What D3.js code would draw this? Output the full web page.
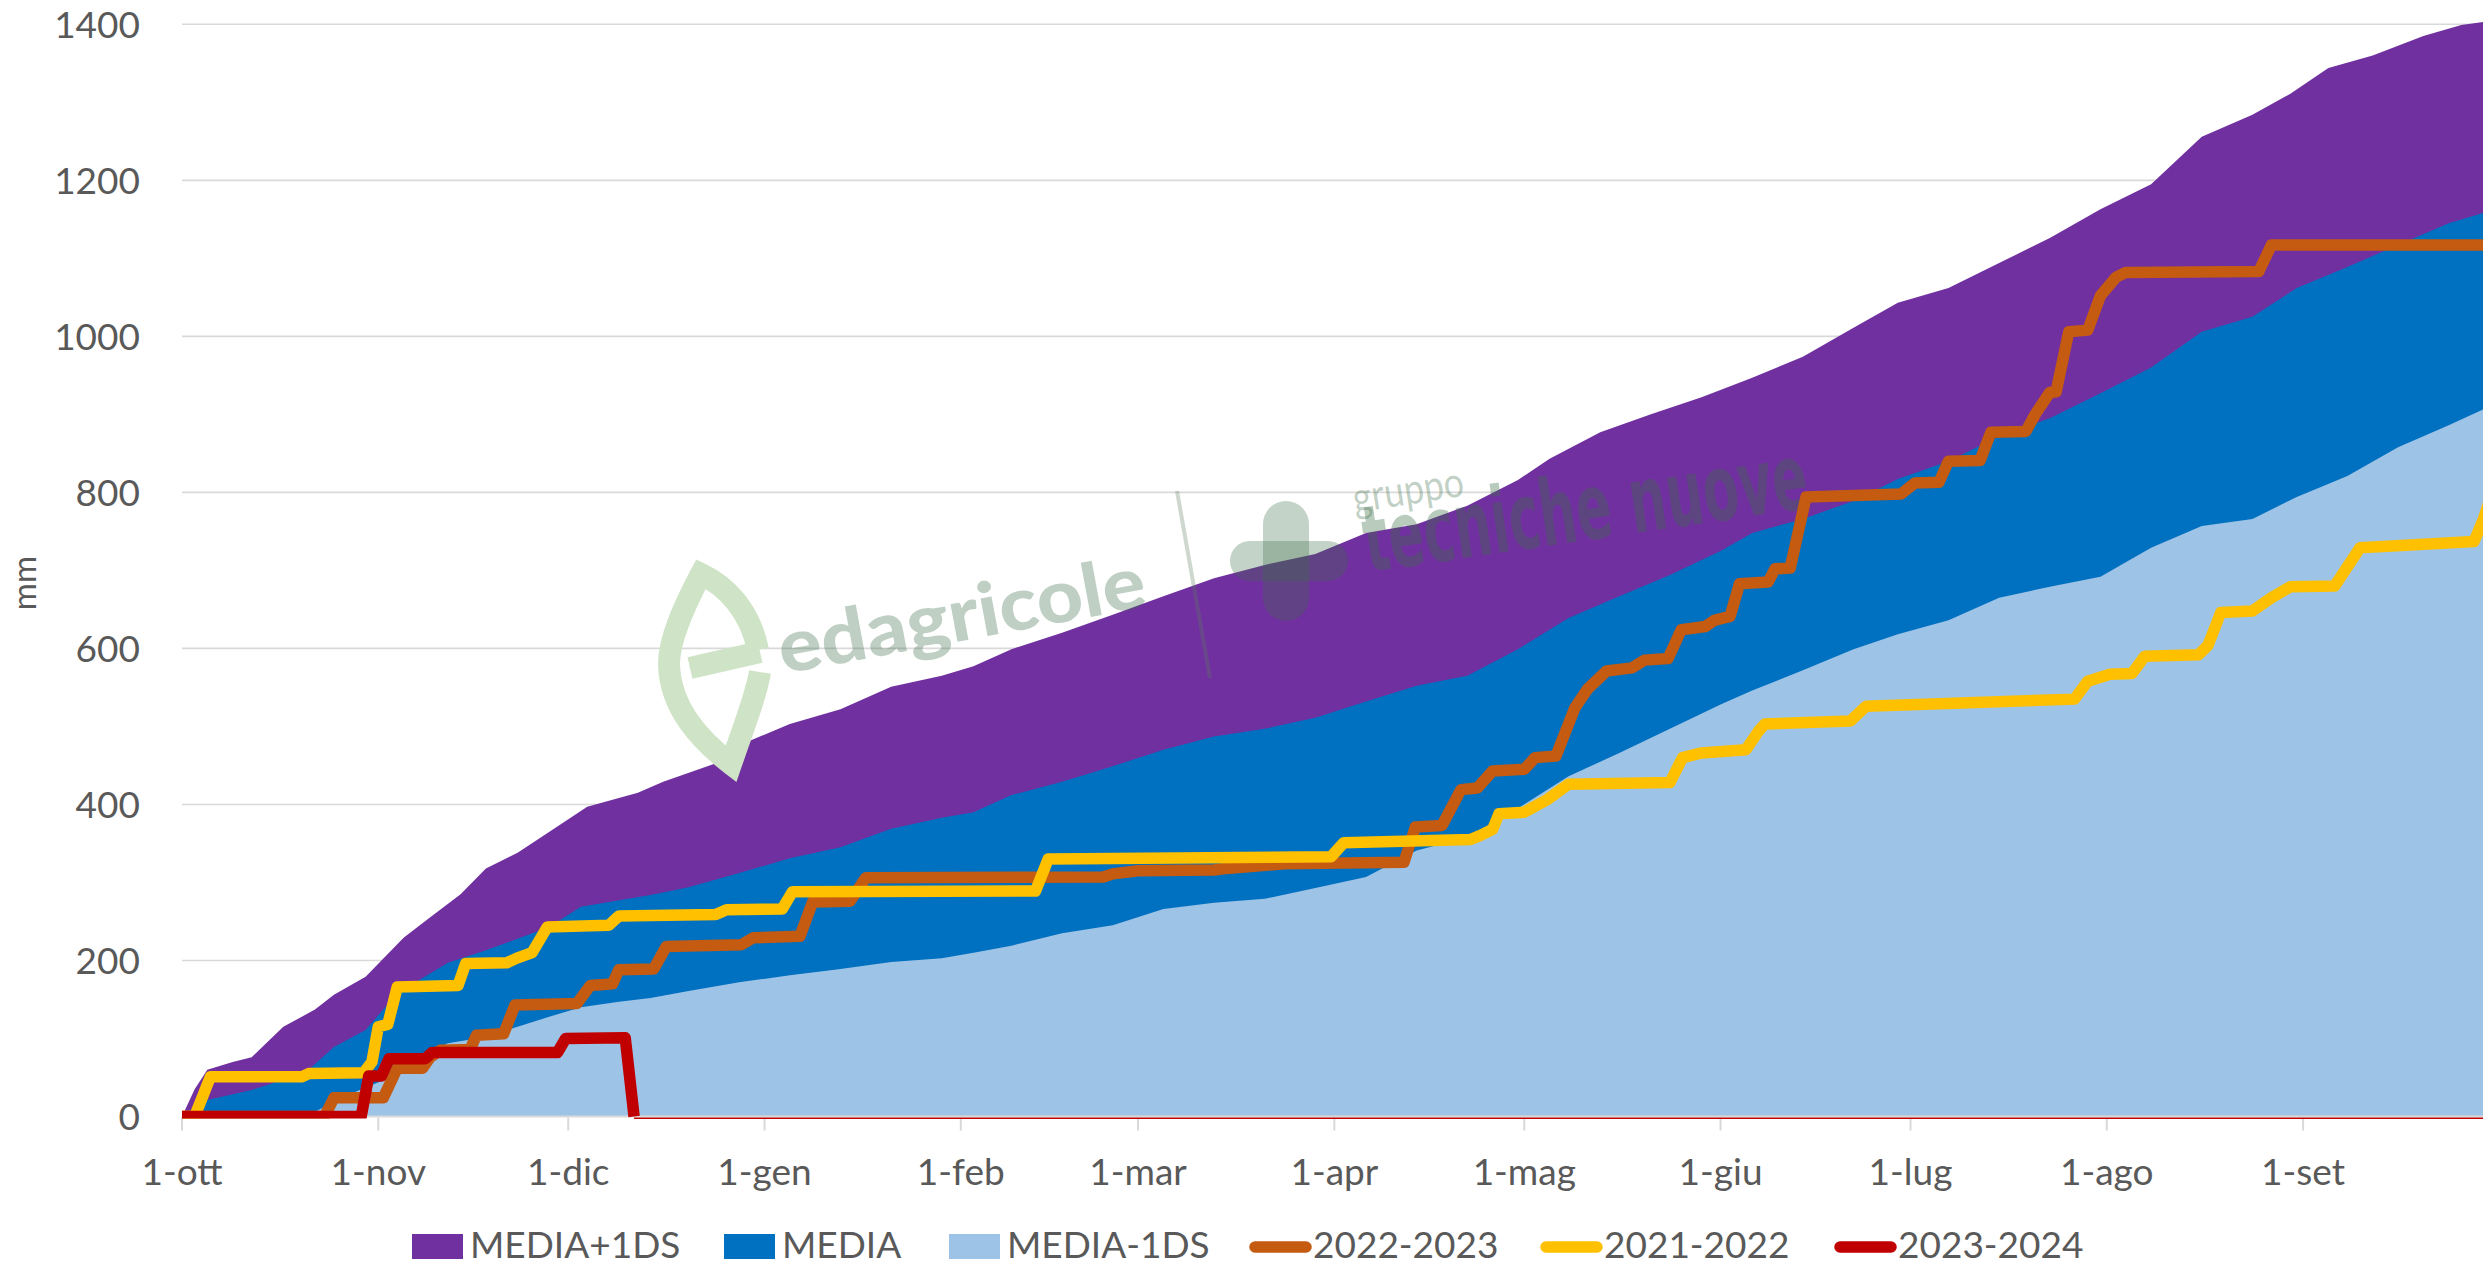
<!DOCTYPE html>
<html><head><meta charset="utf-8">
<script src="https://cdn.jsdelivr.net/npm/d3@7/dist/d3.min.js"></script>
<style>
html,body{margin:0;padding:0;background:#fff;}
svg{display:block;}
text{font-family:Lato,"Open Sans",sans-serif;fill:#595959;}
</style></head><body>
<svg id="chart" width="2483" height="1275"></svg>
<script>
// ---- tick labels / categories ----
const monthLabels = ["1-ott","1-nov","1-dic","1-gen","1-feb","1-mar","1-apr","1-mag","1-giu","1-lug","1-ago","1-set"];
const monthDays   = [0,31,61,92,123,151,182,212,243,273,304,335];
const yTicks      = [0,200,400,600,800,1000,1200,1400];
const seriesNames = ["MEDIA+1DS","MEDIA","MEDIA-1DS","2022-2023","2021-2022","2023-2024"];

// ---- series values: [day since 1-ott, cumulative mm] ----
const mediaPiu1DS = [[0,0],[2,35],[4,60],[8,70],[11,76],[16,115],[21,137],[24,156],[29,179],[32,204],[35,229],[39,254],[44,285],[48,318],[53,338],[56,354],[64,397],[72,415],[76,429],[84,452],[88,476],[96,503],[104,522],[112,551],[120,565],[125,577],[131,599],[139,620],[147,643],[155,667],[163,690],[171,707],[179,721],[187,748],[195,759],[203,783],[211,816],[216,843],[224,877],[232,900],[240,922],[248,947],[256,974],[264,1011],[271,1043],[279,1062],[287,1094],[295,1126],[303,1163],[311,1195],[319,1256],[327,1284],[333,1311],[339,1344],[346,1360],[354,1385],[360,1399],[365,1405]];
const media = [[0,0],[4,21],[11,34],[16,47],[20,60],[24,89],[29,111],[34,158],[42,197],[48,213],[58,243],[63,269],[74,284],[80,294],[88,312],[96,331],[104,345],[112,369],[120,383],[125,390],[131,412],[139,429],[147,449],[155,470],[163,487],[171,497],[179,511],[187,532],[195,552],[203,565],[211,599],[219,639],[227,667],[235,694],[243,725],[248,748],[256,766],[264,789],[271,817],[279,840],[287,872],[295,895],[303,927],[311,960],[319,1006],[327,1025],[334,1062],[342,1089],[350,1117],[358,1145],[365,1162]];
const mediaMeno1DS = [[0,0],[19,0],[21,6],[26,27],[32,47],[37,76],[42,94],[48,102],[53,115],[58,128],[63,140],[69,147],[74,152],[80,161],[88,172],[96,181],[104,189],[112,198],[120,203],[125,210],[131,219],[139,235],[147,245],[155,266],[163,274],[171,279],[179,293],[187,307],[195,341],[203,358],[211,395],[219,436],[227,466],[235,497],[243,528],[248,546],[256,572],[264,599],[271,618],[279,636],[287,665],[295,679],[303,692],[311,729],[319,757],[327,766],[334,794],[342,821],[350,858],[358,886],[365,912]];
const anno2022_2023 = [[0,0],[22.5,0],[24,24],[31.8,24],[34,62],[38,62],[39.2,76],[40.8,85],[45.5,86],[46.5,104],[50.8,106],[52.6,143],[62.4,145],[64.5,168],[68,170],[69,188],[74.5,189],[76.5,218],[88.3,220],[90.2,229],[97.6,231],[99.6,275],[105.5,276],[108,306],[145.5,307],[147,311],[151,315],[163,316],[165,318],[174,324],[193,326],[194.8,371],[199,373],[202,419],[204.6,421],[207,443],[212,445],[213.7,460],[217,462],[220,524],[222,548],[225,571],[229,575],[231,585],[234.7,587],[236.8,624],[240.6,628],[242,636],[244.5,641],[246,683],[250.5,685],[251.6,702],[254,703],[256.5,794],[271.5,798],[273.7,812],[277.5,813],[279,840],[284,841],[285.7,877],[291.2,878],[292.7,900],[295,928],[296,929],[298,1006],[301,1008],[303,1052],[305.5,1076],[307,1082],[328,1083],[330,1117],[365,1117]];
const anno2021_2022 = [[0,0],[2,0],[4.5,51],[19,51],[20,55],[28.7,56],[30,70],[31,115],[32.5,118],[34,166],[43.6,168],[44.8,196],[51.3,197],[52.9,203],[55.3,210],[57.7,243],[67.4,245],[69,257],[84.3,259],[86,265],[94.8,266],[96.4,288],[134.8,289],[136.8,330],[181.5,333],[183.5,351],[203.5,355],[205,360],[207,368],[208,388],[212,390],[215.6,406],[219,426],[235,428],[237,460],[240,466],[247,470],[249,494],[250,503],[263.5,507],[266,526],[298.9,535],[301,558],[304.5,567],[308,568],[310,590],[318.5,592],[320,604],[322,646],[327,648],[330,665],[333,679],[340,680],[344,729],[362,737],[363.5,766],[365,803]];
const anno2023_2024 = [[0,0],[28.3,0],[29.5,52],[31.5,52],[32.7,74],[38.4,74],[39.5,82],[59.3,82],[60.6,100],[70,101],[71.4,0],[365,0]];

// ---- drawing ----
const svg = d3.select("#chart");
const W = 2483, H = 1275;
const x = d3.scaleLinear().domain([0,365]).range([182, 2493]);
const y = d3.scaleLinear().domain([0,1400]).range([1116.5, 24.3]);
const colors = ["#7030a0","#0070c0","#9dc3e6","#c55a11","#ffc000","#c00000"];

svg.append("rect").attr("width",W).attr("height",H).attr("fill","#fff");

const defs = svg.append("defs");
defs.append("clipPath").attr("id","plotClip").append("rect")
  .attr("x",182).attr("y",0).attr("width",W-182).attr("height",y(0)+2);

// gridlines
svg.append("g").selectAll("line").data(yTicks.filter(v=>v>0)).join("line")
  .attr("x1",182).attr("x2",W).attr("y1",d=>y(d)).attr("y2",d=>y(d))
  .attr("stroke","#d9d9d9").attr("stroke-width",1.6);

// y labels
svg.append("g").selectAll("text").data(yTicks).join("text")
  .attr("x",140).attr("y",d=>y(d)).attr("dy","0.36em")
  .attr("text-anchor","end").attr("font-size",37).text(d=>d);

// axis title
svg.append("text").attr("transform","translate(36,583) rotate(-90)")
  .attr("text-anchor","middle").attr("font-size",33).text("mm");

// areas
const area = d3.area().x(d=>x(d[0])).y0(y(0)).y1(d=>y(d[1]));
const gA = svg.append("g").attr("clip-path","url(#plotClip)");
[mediaPiu1DS, media, mediaMeno1DS].forEach((s,i)=>{
  gA.append("path").datum(s).attr("d",area).attr("fill",colors[i]);
});

// zero line and ticks
svg.append("line").attr("x1",182).attr("x2",W).attr("y1",y(0)).attr("y2",y(0))
  .attr("stroke","#d9d9d9").attr("stroke-width",2);
svg.append("g").selectAll("line").data(monthDays).join("line")
  .attr("x1",d=>x(d)).attr("x2",d=>x(d)).attr("y1",y(0)+1).attr("y2",y(0)+14)
  .attr("stroke","#d9d9d9").attr("stroke-width",2);

// x labels
svg.append("g").selectAll("text").data(monthDays).join("text")
  .attr("x",d=>x(d)).attr("y",1185).attr("text-anchor","middle")
  .attr("font-size",37).text((d,i)=>monthLabels[i]);

// watermark
const wm = svg.append("g").attr("pointer-events","none");
wm.append("path")
  .attr("d","M760,652 L690,668 M758,650 C750,610 726,586 701,574 C683,608 669,640 669,664 C670,708 700,740 731,764 C744,726 756,696 760,672")
  .attr("fill","none").attr("stroke","#cfe3c6").attr("stroke-width",22).attr("stroke-linecap","butt");
wm.append("text").attr("transform","translate(783,674) rotate(-10.5)")
  .attr("font-size",74).attr("font-weight",900).attr("textLength",372).attr("lengthAdjust","spacingAndGlyphs")
  .style("fill","#3c6e48").style("fill-opacity",0.33).text("edagricole");
wm.append("line").attr("x1",1177).attr("y1",491).attr("x2",1210).attr("y2",678)
  .attr("stroke","#5d7f5d").attr("stroke-opacity",0.3).attr("stroke-width",4);
wm.append("rect").attr("x",1263).attr("y",501).attr("width",46).attr("height",120).attr("rx",23)
  .attr("fill","#3c6e48").attr("fill-opacity",0.3);
wm.append("rect").attr("x",1230).attr("y",541).attr("width",118).attr("height",40).attr("rx",20)
  .attr("fill","#3c6e48").attr("fill-opacity",0.3);
wm.append("text").attr("transform","translate(1355,513) rotate(-9)")
  .attr("font-size",42).attr("textLength",112).attr("lengthAdjust","spacingAndGlyphs")
  .style("fill","#3c6e48").style("fill-opacity",0.33).text("gruppo");
wm.append("text").attr("transform","translate(1368,572) rotate(-8.3)")
  .attr("font-size",92).attr("font-weight",900).attr("textLength",448).attr("lengthAdjust","spacingAndGlyphs")
  .style("font-family","'DejaVu Sans Condensed','DejaVu Sans',sans-serif")
  .style("fill","#3c6e48").style("fill-opacity",0.36).text("tecniche nuove");

// lines
const line = d3.line().x(d=>x(d[0])).y(d=>y(d[1]));
const gL = svg.append("g").attr("clip-path","url(#plotClip)");
[anno2022_2023, anno2021_2022].forEach((s,i)=>{
  gL.append("path").datum(s).attr("d",line).attr("fill","none")
    .attr("stroke",colors[3+i]).attr("stroke-width",11.5)
    .attr("stroke-linejoin","round").attr("stroke-linecap","round");
});
// 2023-2024: thick until the data ends, then thin along zero
let lastPos = 0;
anno2023_2024.forEach((d,i)=>{ if (d[1]>0) lastPos=i; });
const redHead = anno2023_2024.slice(0,lastPos+2);
const redTail = anno2023_2024.slice(lastPos+1);
gL.append("path").datum(redHead).attr("d",line).attr("fill","none")
  .attr("stroke",colors[5]).attr("stroke-width",11.5)
  .attr("stroke-linejoin","round").attr("stroke-linecap","butt");
svg.append("path").datum(redTail)
  .attr("d",d3.line().x(d=>x(d[0])).y(d=>y(d[1])+1.7))
  .attr("fill","none").attr("stroke",colors[5]).attr("stroke-width",1.6);

// legend
const legX = [412, 724, 949, 1249, 1540, 1834];
const lg = svg.append("g");
seriesNames.forEach((name,i)=>{
  const g = lg.append("g").attr("transform",`translate(${legX[i]},0)`);
  let tx;
  if (i<3) {
    g.append("rect").attr("x",0).attr("y",1234).attr("width",51).attr("height",25).attr("fill",colors[i]);
    tx = 58;
  } else {
    g.append("line").attr("x1",6).attr("x2",57).attr("y1",1247).attr("y2",1247)
      .attr("stroke",colors[i]).attr("stroke-width",11.5).attr("stroke-linecap","round");
    tx = 64;
  }
  g.append("text").attr("x",tx).attr("y",1258).attr("font-size",37).text(name);
});
</script>
</body></html>
